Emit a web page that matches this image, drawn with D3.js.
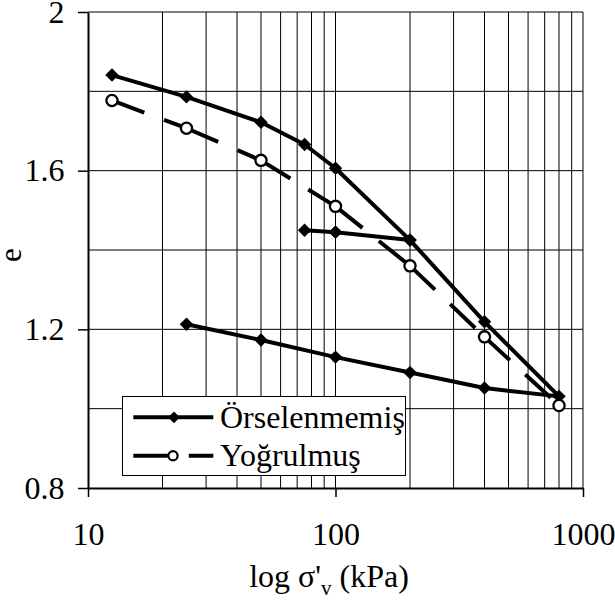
<!DOCTYPE html>
<html lang="tr">
<head>
<meta charset="UTF-8">
<title>e - log σ'v</title>
<script src="https://d3js.org/d3.v7.min.js"></script>
<style>
    body { margin: 0; background: #fff; }
    svg { display: block; }
    text { font-family: "Liberation Serif", "Times New Roman", serif; fill: #000; }
    .grid line { stroke: #000; stroke-width: 1; }
    .axis text { font-size: 32px; }
    .axis line { stroke: #000; stroke-width: 1.5; }
    .axis path { stroke: #000; stroke-width: 2; }
</style>
</head>
<body>
<svg width="615" height="600"></svg>
<script>
// consolidation test: stress steps (kPa) and void ratio e
const undisturbedStress = [12.5, 25, 50, 75, 100, 200, 100, 75, 100, 200, 400, 800, 400, 200, 100, 50, 25];
const undisturbedE = [1.841, 1.786, 1.722, 1.666, 1.606, 1.425, 1.445, 1.450, 1.445, 1.425, 1.219, 1.031, 1.052, 1.091, 1.130, 1.173, 1.213];
const remoldedStress = [12.5, 25, 50, 100, 200, 400, 800];
const remoldedE = [1.777, 1.707, 1.626, 1.510, 1.360, 1.181, 1.008];
const seriesNames = ["Örselenmemiş", "Yoğrulmuş"];
const xTickValues = [10, 100, 1000];
const xTickLabels = ["10", "100", "1000"];
const yTickValues = [0.8, 1.2, 1.6, 2];
const yTickLabels = ["0.8", "1.2", "1.6", "2"];

const font = '"Liberation Serif", "Times New Roman", serif';
const svg = d3.select("svg");

const x = d3.scaleLog().domain([10, 1000]).range([88, 583]);
const y = d3.scaleLinear().domain([0.8, 2]).range([488, 12]);

// gridlines
const grid = svg.append("g").attr("class", "grid");
grid.selectAll(".vx")
    .data(x.ticks().filter(d => d > 10 && d < 1000))
    .enter().append("line")
    .attr("x1", d => x(d)).attr("x2", d => x(d))
    .attr("y1", y(0.8)).attr("y2", y(2));
grid.selectAll(".hy")
    .data(y.ticks(6).filter(d => d > 0.81 && d < 1.99))
    .enter().append("line")
    .attr("x1", x(10)).attr("x2", x(1000))
    .attr("y1", d => y(d)).attr("y2", d => y(d));
grid.append("line").attr("x1", x(10)).attr("x2", x(1000)).attr("y1", y(2)).attr("y2", y(2));
grid.append("line").attr("x1", x(1000)).attr("x2", x(1000)).attr("y1", y(2)).attr("y2", y(0.8));

// axes
svg.append("g")
    .attr("class", "axis")
    .attr("transform", `translate(0, ${y(0.8)})`)
    .call(d3.axisBottom(x)
        .tickValues(xTickValues)
        .tickFormat((d, i) => xTickLabels[i])
        .tickSize(9)
        .tickSizeOuter(0)
        .tickPadding(25));

svg.append("g")
    .attr("class", "axis")
    .attr("transform", `translate(${x(10)}, 0)`)
    .call(d3.axisLeft(y)
        .tickValues(yTickValues)
        .tickFormat((d, i) => yTickLabels[i])
        .tickSize(10)
        .tickSizeOuter(0)
        .tickPadding(13.5));

svg.selectAll(".axis").attr("font-family", font).attr("font-size", 32);
svg.selectAll(".axis text").style("font-family", font);

// axis titles
svg.append("text")
    .attr("transform", "translate(21, 255) rotate(-90)")
    .attr("text-anchor", "middle")
    .style("font-family", font)
    .attr("font-size", 31)
    .text("e");

const xt = svg.append("text")
    .attr("x", 329)
    .attr("y", 587)
    .attr("text-anchor", "middle")
    .style("font-family", font)
    .attr("font-size", 32);
xt.append("tspan").text("log σ'");
xt.append("tspan").attr("font-size", 21).attr("dy", 8).text("v");
xt.append("tspan").attr("dy", -8).text(" (kPa)");

const undisturbed = undisturbedStress.map((s, i) => [s, undisturbedE[i]]);
const remolded = remoldedStress.map((s, i) => [s, remoldedE[i]]);

const line = d3.line().x(d => x(d[0])).y(d => y(d[1]));
const diamond = d3.symbol().type(d3.symbolSquare).size(90);

// Örselenmemiş
svg.append("path")
    .datum(undisturbed)
    .attr("d", line)
    .attr("fill", "none")
    .attr("stroke", "#000")
    .attr("stroke-width", 4)
    .attr("stroke-linejoin", "round");

svg.selectAll(".dia")
    .data(undisturbed)
    .enter().append("path")
    .attr("d", diamond)
    .attr("transform", d => `translate(${x(d[0])}, ${y(d[1])}) rotate(45)`)
    .attr("fill", "#000");

// Yoğrulmuş: dash pattern restarts at every point
svg.selectAll(".seg")
    .data(d3.pairs(remolded))
    .enter().append("path")
    .attr("d", line)
    .attr("fill", "none")
    .attr("stroke", "#000")
    .attr("stroke-width", 4)
    .attr("stroke-dasharray", "34.5,21");

svg.selectAll(".circ")
    .data(remolded)
    .enter().append("circle")
    .attr("cx", d => x(d[0]))
    .attr("cy", d => y(d[1]))
    .attr("r", 5.6)
    .attr("fill", "#fff")
    .attr("stroke", "#000")
    .attr("stroke-width", 2.3);

// legend
const legend = svg.append("g");
legend.append("rect")
    .attr("x", 122.5).attr("y", 396.5)
    .attr("width", 283).attr("height", 79)
    .attr("fill", "#fff")
    .attr("stroke", "#000")
    .attr("stroke-width", 1);

const rows = [417.3, 455.7];
rows.forEach((ry, i) => {
    legend.append("line")
        .attr("x1", 133.3).attr("x2", 213.3)
        .attr("y1", ry).attr("y2", ry)
        .attr("stroke", "#000")
        .attr("stroke-width", 4)
        .attr("stroke-dasharray", i === 1 ? "34.5,21" : null);
    if (i === 0) {
        legend.append("path")
            .attr("d", d3.symbol().type(d3.symbolSquare).size(70))
            .attr("transform", `translate(174, ${ry}) rotate(45)`)
            .attr("fill", "#000");
    } else {
        legend.append("circle")
            .attr("cx", 173).attr("cy", ry).attr("r", 4.6)
            .attr("fill", "#fff").attr("stroke", "#000").attr("stroke-width", 2.2);
    }
    legend.append("text")
        .attr("x", 220)
        .attr("y", ry + 10.7)
        .style("font-family", font)
        .attr("font-size", 32)
        .text(seriesNames[i]);
});
</script>
</body>
</html>
